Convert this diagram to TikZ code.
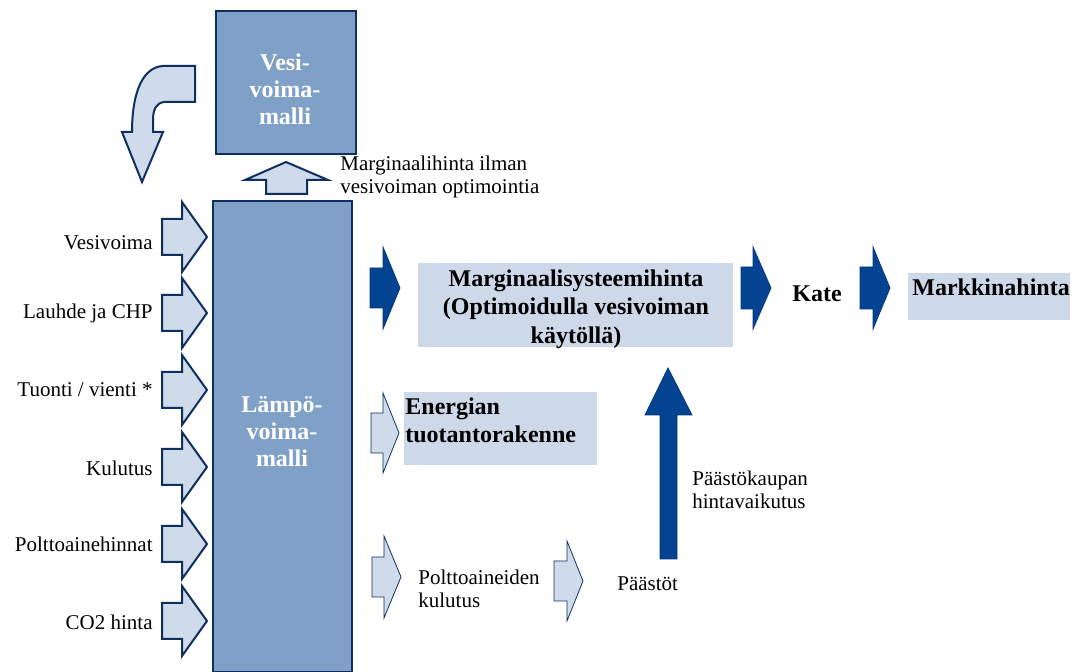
\documentclass[tikz,border=0pt]{standalone}
\usepackage{fontspec}
\setmainfont{Liberation Serif}
\definecolor{navy}{HTML}{0E2F5F}
\definecolor{midblue}{HTML}{7FA0C7}
\definecolor{lightfill}{HTML}{CFDAEA}
\definecolor{boxfill}{HTML}{CDD8E8}
\definecolor{darkblue}{HTML}{034391}
\newcommand\rarr[7]{\draw[#1] (#2,#5-#6) -- (#3,#5-#6) -- (#3,#5-#7) -- (#4,#5) -- (#3,#5+#7) -- (#3,#5+#6) -- (#2,#5+#6) -- cycle;}
\begin{document}
\begin{tikzpicture}[x=0.5pt,y=-0.5pt,
  bigbox/.style={draw=navy, line width=1.1pt, fill=midblue, inner sep=0pt},
  lightarr/.style={draw=navy, line width=1pt, fill=lightfill, line join=miter},
  thinarr/.style={draw=navy, line width=0.4pt, fill=lightfill},
  darkarr/.style={fill=darkblue, draw=darkblue!85!black, line width=0.4pt},
  lbox/.style={fill=boxfill, inner sep=0pt},
  btxt/.style={font=\rmfamily\bfseries\fontsize{12}{14.25}\selectfont, inner sep=0pt},
  wtxt/.style={font=\rmfamily\bfseries\fontsize{12}{13.5}\selectfont, text=white, align=center, inner sep=0pt},
  txt/.style={font=\rmfamily\fontsize{10.5}{11.5}\selectfont, inner sep=0pt}]
\useasboundingbox (0,0) rectangle (1084,672);
% boxes
\node[bigbox, anchor=north west, minimum width=70pt, minimum height=71.5pt] (vesi) at (215,10) {};
\node[wtxt] (vesit) at (285,89) {Vesi-\\voima-\\malli};
\node[bigbox, anchor=north west, minimum width=69.5pt, minimum height=235.5pt] (lampo) at (212,200) {};
\node[wtxt] (lampot) at (282,432) {Lämpö-\\voima-\\malli};
\node[lbox, anchor=north west, minimum width=157.5pt, minimum height=42pt] (marg) at (418,263) {};
\node[btxt, align=center] (margt) at (576,309) {Marginaalisysteemihinta\\(Optimoidulla vesivoiman\\käytöllä)};
\node[lbox, anchor=north west, minimum width=81pt, minimum height=23.5pt] (markk) at (908,273) {};
\node[btxt, anchor=west] (markkt) at (912,287) {Markkinahinta};
\node[lbox, anchor=north west, minimum width=96.5pt, minimum height=36.5pt] (energ) at (404,392) {};
\node[btxt, align=left, anchor=north west] (energt) at (405,397) {Energian\\tuotantorakenne};
\node[btxt] (kate) at (817,294) {Kate};
% curved arrow
\draw[lightarr] (195,66) -- (163,66) .. controls (143,67) and (132,92) .. (132,132) -- (122,132) -- (142,182) -- (163,132) -- (153,132) -- (153,120) .. controls (153,110) and (156,103) .. (164,102) -- (195,102) -- cycle;
% up arrow to vesi
\draw[lightarr] (266,194) -- (266,180) -- (245,180) -- (286,162) -- (328,180) -- (307,180) -- (307,194) -- cycle;
\node[txt, align=left, anchor=west] (margil) at (340,177) {Marginaalihinta ilman\\vesivoiman optimointia};
% input arrows
\foreach \yy/\ly/\lab [count=\i] in {237/243/{Vesivoima}, 313/313/{Lauhde ja CHP}, 390/390/{Tuonti / vienti *}, 467/468/{Kulutus}, 544/544/{Polttoainehinnat}, 621/622/{CO2 hinta}}{
  \rarr{lightarr}{162}{182}{207}{\yy}{18}{35}
  \node[txt, anchor=east] (in\i) at (153,\ly) {\lab};
}
% dark arrows
\rarr{darkarr}{370}{383}{400}{288}{20}{41}
\rarr{darkarr}{741}{753}{771}{288}{21}{41}
\rarr{darkarr}{860}{873}{890}{288}{21}{41}
% thin light arrows
\rarr{thinarr}{371}{383}{399}{433}{20}{40}
\rarr{thinarr}{372}{384}{401}{577}{20}{41}
\rarr{thinarr}{554}{567}{583}{581}{20}{40}
% big up arrow
\draw[darkarr] (660,559) -- (660,415) -- (645,415) -- (668,368) -- (692,415) -- (677,415) -- (677,559) -- cycle;
\node[txt, align=left, anchor=west] (paast) at (692,490) {Päästökaupan\\hintavaikutus};
\node[txt, align=left, anchor=west] (polt) at (418,589) {Polttoaineiden\\kulutus};
\node[txt, anchor=west] (paastot) at (617,584) {Päästöt};
\end{tikzpicture}
\end{document}
